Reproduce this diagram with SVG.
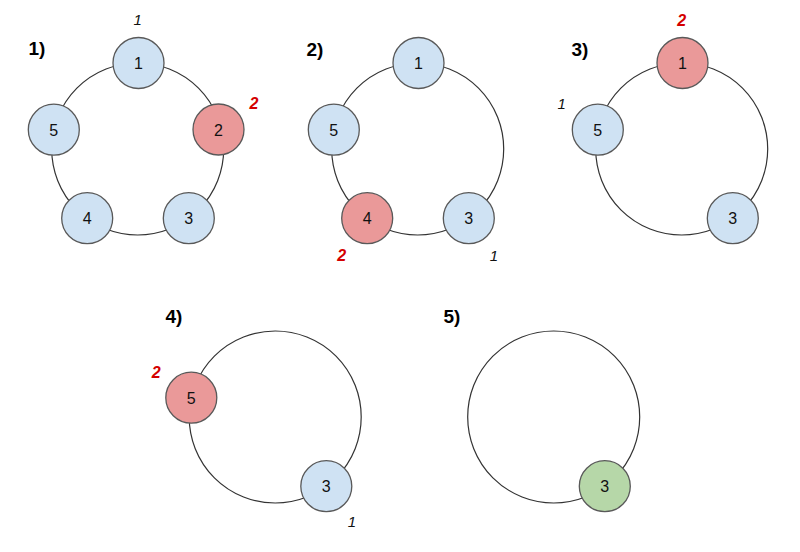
<svg xmlns="http://www.w3.org/2000/svg" width="800" height="552" viewBox="0 0 800 552">
<style>
.ring{fill:none;stroke:#333;stroke-width:1.2}
.node{stroke:#595959;stroke-width:1.3}
.blue{fill:#cfe2f3}
.red{fill:#ea9999}
.green{fill:#b6d7a8}
.nl{font-family:"Liberation Sans",Arial,sans-serif;font-size:16px;fill:#111;text-anchor:middle}
.pl{font-family:"Liberation Sans",Arial,sans-serif;font-size:19px;font-weight:bold;fill:#000}
.cnt{font-family:"Liberation Sans",Arial,sans-serif;font-size:15px;font-style:italic;fill:#111;text-anchor:middle}
.hot{font-family:"Liberation Sans",Arial,sans-serif;font-size:16px;font-style:italic;font-weight:bold;fill:#d40000;text-anchor:middle}
</style>
<rect width="800" height="552" fill="#fff"/>
<g id="connectors">
<circle class="ring" cx="137.7" cy="149" r="86"/>
<circle class="ring" cx="417.7" cy="149" r="86"/>
<circle class="ring" cx="681.7" cy="149" r="86"/>
<circle class="ring" cx="275.2" cy="417" r="86"/>
<circle class="ring" cx="553.7" cy="417" r="86"/>
</g>
<g id="labels">
<text class="pl" x="28.5" y="55">1)</text>
<text class="pl" x="306.5" y="56">2)</text>
<text class="pl" x="571.5" y="56">3)</text>
<text class="pl" x="165.5" y="322.5">4)</text>
<text class="pl" x="443.5" y="322.5">5)</text>
<text class="cnt" x="137.7" y="24.5">1</text>
<text class="hot" x="254" y="108.5">2</text>
<text class="hot" x="341.7" y="261">2</text>
<text class="cnt" x="494" y="261">1</text>
<text class="hot" x="681.7" y="26">2</text>
<text class="cnt" x="561.7" y="109">1</text>
<text class="hot" x="156.3" y="378">2</text>
<text class="cnt" x="352" y="527">1</text>
</g>
<g id="p1n1"><circle class="node blue" cx="138.5" cy="63" r="25.5"/><text class="nl" x="138.5" y="69">1</text></g>
<g id="p1n2"><circle class="node red" cx="218.5" cy="129.5" r="25.5"/><text class="nl" x="218.5" y="135.5">2</text></g>
<g id="p1n3"><circle class="node blue" cx="188.8" cy="218.2" r="25.5"/><text class="nl" x="188.8" y="224.2">3</text></g>
<g id="p1n4"><circle class="node blue" cx="87.2" cy="218.2" r="25.5"/><text class="nl" x="87.2" y="224.2">4</text></g>
<g id="p1n5"><circle class="node blue" cx="53.8" cy="129.7" r="25.5"/><text class="nl" x="53.8" y="135.7">5</text></g>
<g id="p2n1"><circle class="node blue" cx="418.5" cy="63" r="25.5"/><text class="nl" x="418.5" y="69">1</text></g>
<g id="p2n3"><circle class="node blue" cx="468.8" cy="218.2" r="25.5"/><text class="nl" x="468.8" y="224.2">3</text></g>
<g id="p2n4"><circle class="node red" cx="367.2" cy="218.2" r="25.5"/><text class="nl" x="367.2" y="224.2">4</text></g>
<g id="p2n5"><circle class="node blue" cx="333.8" cy="129.7" r="25.5"/><text class="nl" x="333.8" y="135.7">5</text></g>
<g id="p3n1"><circle class="node red" cx="682.5" cy="63" r="25.5"/><text class="nl" x="682.5" y="69">1</text></g>
<g id="p3n3"><circle class="node blue" cx="732.8" cy="218.2" r="25.5"/><text class="nl" x="732.8" y="224.2">3</text></g>
<g id="p3n5"><circle class="node blue" cx="597.8" cy="129.7" r="25.5"/><text class="nl" x="597.8" y="135.7">5</text></g>
<g id="p4n3"><circle class="node blue" cx="326.3" cy="486.2" r="25.5"/><text class="nl" x="326.3" y="492.2">3</text></g>
<g id="p4n5"><circle class="node red" cx="191.3" cy="397.7" r="25.5"/><text class="nl" x="191.3" y="403.7">5</text></g>
<g id="p5n3"><circle class="node green" cx="604.8" cy="486.2" r="25.5"/><text class="nl" x="604.8" y="492.2">3</text></g>
</svg>
